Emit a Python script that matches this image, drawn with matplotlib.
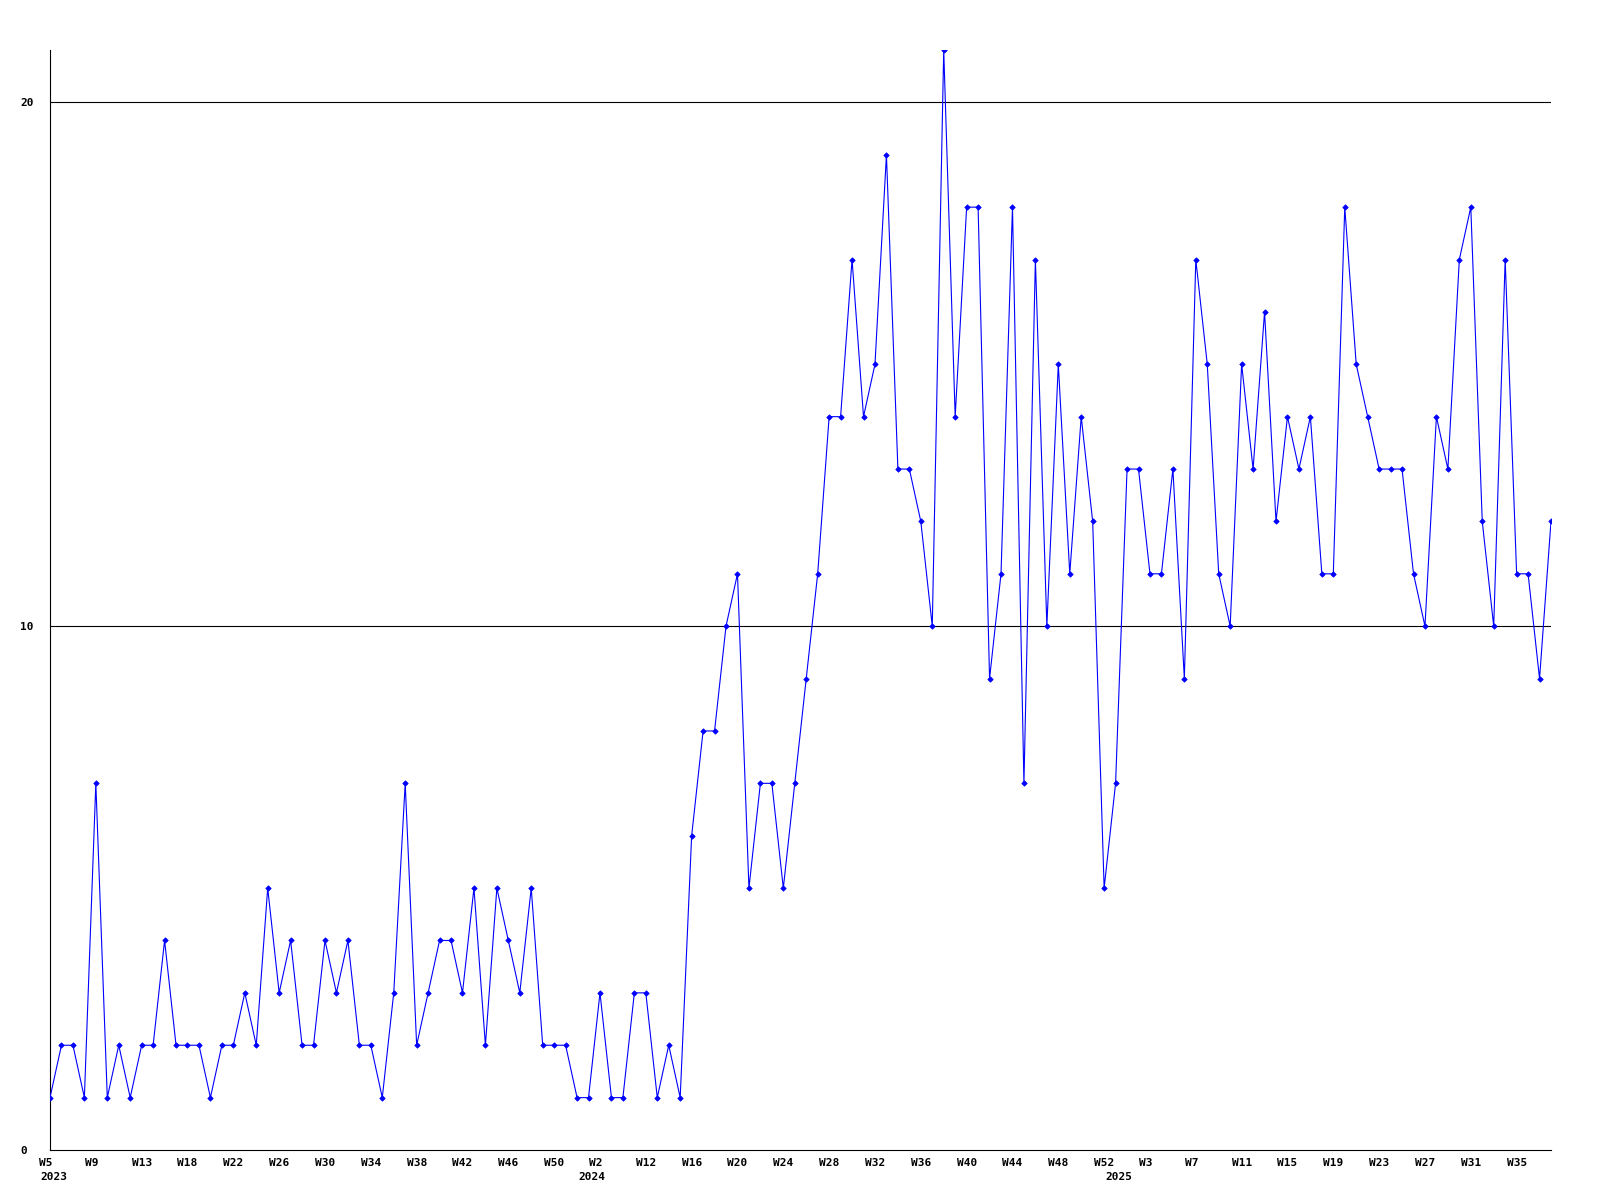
import matplotlib
matplotlib.use("Agg")
import matplotlib.pyplot as plt
import matplotlib.transforms as mtransforms

# weekly counts, W5 2023 .. W37 2025
values = [1, 2, 2, 1, 7, 1, 2, 1, 2, 2, 4, 2, 2, 2, 1, 2, 2, 3, 2, 5,
          3, 4, 2, 2, 4, 3, 4, 2, 2, 1, 3, 7, 2, 3, 4, 4, 3, 5, 2, 5,
          4, 3, 5, 2, 2, 2, 1, 1, 3, 1, 1, 3, 3, 1, 2, 1, 6,
          8, 8, 10, 11, 5, 7, 7, 5, 7, 9, 11, 14, 14, 17, 14, 15, 19, 13, 13,
          12, 10, 21, 14, 18, 18, 9, 11, 18, 7, 17, 10, 15, 11, 14, 12,
          5, 7, 13, 13, 11, 11, 13, 9, 17, 15, 11, 10, 15, 13, 16, 12, 14, 13,
          14, 11, 11, 18, 15, 14, 13, 13, 13, 11, 10, 14, 13, 17, 18, 12, 10,
          17, 11, 11, 9, 12]

week_labels = ["W5", "W9", "W13", "W18", "W22", "W26", "W30", "W34", "W38",
               "W42", "W46", "W50", "W2", "W12", "W16", "W20", "W24", "W28",
               "W32", "W36", "W40", "W44", "W48", "W52", "W3", "W7", "W11",
               "W15", "W19", "W23", "W27", "W31", "W35"]
week_pos = list(range(0, 4 * len(week_labels), 4))

years = ["2023", "2024", "2025"]
year_pos = [0, 47, 93]

y_ticks = [0, 10, 20]

mono = "DejaVu Sans Mono"

fig = plt.figure(figsize=(16, 12), dpi=100)
ax = fig.add_axes([50 / 1600, 50 / 1200, 1501 / 1600, 1100 / 1200])

x = list(range(len(values)))
ax.plot(x, values, color="#0000ff", linewidth=0.8, marker="D",
        markersize=2.8, markeredgewidth=0.5, zorder=3)

for t in y_ticks[1:]:
    ax.axhline(t, color="black", linewidth=0.8, zorder=1)

ax.set_xlim(0, len(values) - 1)
ax.set_ylim(0, 21)

for side in ["top", "right"]:
    ax.spines[side].set_visible(False)
for side in ["left", "bottom"]:
    ax.spines[side].set_linewidth(0.8)
    ax.spines[side].set_color("black")

ax.set_xticks(week_pos)
ax.set_xticklabels(week_labels, fontfamily=mono, fontweight="bold", fontsize=8)
ax.set_yticks(y_ticks)
ax.set_yticklabels([str(t) for t in y_ticks], fontfamily=mono,
                   fontweight="bold", fontsize=8, ha="left")
ax.tick_params(axis="x", length=0, pad=5.5)
ax.tick_params(axis="y", length=0, pad=21.6)

# short labels sit a bit left of their point in the original
for lab in ax.get_xticklabels():
    if len(lab.get_text()) == 2:
        shift = mtransforms.ScaledTranslation(-4 / 100, 0, fig.dpi_scale_trans)
        lab.set_transform(lab.get_transform() + shift)

trans = mtransforms.blended_transform_factory(ax.transData, ax.transAxes)
for yr, p in zip(years, year_pos):
    ax.text(p + 0.3, -0.0245, yr, transform=trans, ha="center", va="center",
            fontfamily=mono, fontweight="bold", fontsize=8)

fig.savefig("out.png", dpi=100, facecolor="white")
